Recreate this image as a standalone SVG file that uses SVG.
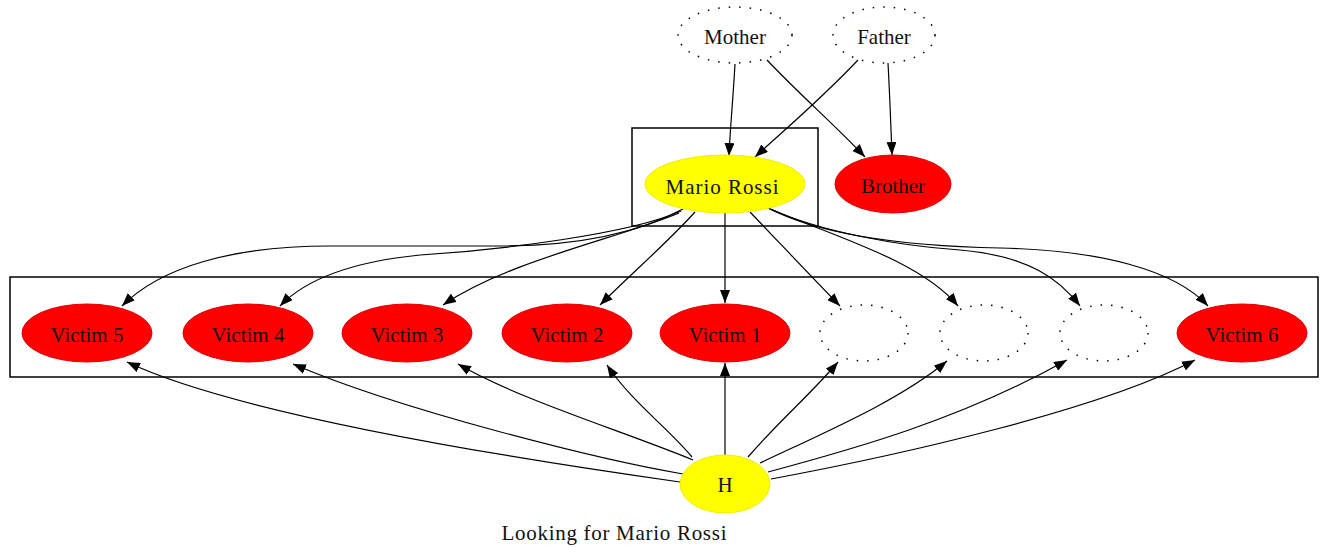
<svg xmlns="http://www.w3.org/2000/svg" width="1322" height="548" viewBox="0 0 1322 548">
<defs>
<style>
.t{font-family:"Liberation Serif","Times New Roman",serif;font-size:21px;fill:#111;text-anchor:middle}
.red{fill:#ff0000;stroke:#e00000;stroke-width:1}
.yel{fill:#ffff00;stroke:#eeee00;stroke-width:1}
.dot{fill:none;stroke:#000;stroke-width:1.5;stroke-dasharray:1.5 9}
.box{fill:none;stroke:#000;stroke-width:1.5}
.e{fill:none;stroke:#000;stroke-width:1.2;marker-end:url(#ah)}
</style>
<marker id="ah" markerUnits="userSpaceOnUse" markerWidth="13" markerHeight="10" viewBox="0 0 13 10" refX="13" refY="5" orient="auto">
<path d="M0,0 L13,5 L0,10 z" fill="#000"/>
</marker>
</defs>
<rect width="1322" height="548" fill="#fff"/>
<g id="clusters">
<rect class="box" x="632" y="128" width="186" height="98"/>
<rect class="box" x="10" y="277" width="1308" height="100"/>
</g>
<g id="connectors">
<path class="e" d="M735,64 C733,100 730,130 729,156"/>
<path class="e" d="M767,60 C800,95 835,125 865,157"/>
<path class="e" d="M858,60 C820,100 790,125 755,157"/>
<path class="e" d="M888,63 C890,100 891,130 892,155"/>
<path class="e" d="M683,209 C640,232 580,246 500,246 L330,246 C230,246 160,268 122,306"/>
<path class="e" d="M681,211 C630,234 500,250 420,255 C350,262 305,280 280,306"/>
<path class="e" d="M679,213 C620,238 510,260 443,305"/>
<path class="e" d="M695,212 C670,240 630,275 600,305"/>
<path class="e" d="M725,213 L725,303"/>
<path class="e" d="M750,212 C775,238 805,270 840,306"/>
<path class="e" d="M768,208 C830,235 920,260 958,306"/>
<path class="e" d="M768,208 C820,232 900,246 960,250 C1030,256 1060,280 1080,306"/>
<path class="e" d="M768,208 C820,235 900,246 1000,248 C1100,250 1175,270 1208,306"/>
<path class="e" d="M680,482 C560,465 250,420 127,362"/>
<path class="e" d="M683,474 C600,460 400,410 293,364"/>
<path class="e" d="M693,460 C620,430 520,400 458,364"/>
<path class="e" d="M692,457 C670,430 630,400 607,365"/>
<path class="e" d="M725,455 L725,363"/>
<path class="e" d="M748,457 C780,420 810,395 838,362"/>
<path class="e" d="M760,463 C830,430 900,400 947,361"/>
<path class="e" d="M768,472 C850,450 960,420 1067,360"/>
<path class="e" d="M771,479 C900,455 1100,410 1195,360"/>
</g>
<g id="mother"><ellipse class="dot" cx="735" cy="35" rx="57" ry="28"/><text class="t" x="735" y="44">Mother</text></g>
<g id="father"><ellipse class="dot" cx="884" cy="35" rx="51" ry="28"/><text class="t" x="884" y="44">Father</text></g>
<g id="mario"><ellipse class="yel" cx="725" cy="184" rx="80" ry="29"/><text class="t" x="722" y="194" textLength="113">Mario Rossi</text></g>
<g id="brother"><ellipse class="red" cx="893" cy="184" rx="58" ry="29"/><text class="t" x="893" y="193">Brother</text></g>
<g id="victim5"><ellipse class="red" cx="87" cy="333" rx="65" ry="29"/><text class="t" x="87" y="342">Victim 5</text></g>
<g id="victim4"><ellipse class="red" cx="248" cy="333" rx="65" ry="29"/><text class="t" x="248" y="342">Victim 4</text></g>
<g id="victim3"><ellipse class="red" cx="407" cy="333" rx="65" ry="29"/><text class="t" x="407" y="342">Victim 3</text></g>
<g id="victim2"><ellipse class="red" cx="567" cy="333" rx="65" ry="29"/><text class="t" x="567" y="342">Victim 2</text></g>
<g id="victim1"><ellipse class="red" cx="725" cy="333" rx="65" ry="29"/><text class="t" x="725" y="342">Victim 1</text></g>
<g id="blank1"><ellipse class="dot" cx="864" cy="333" rx="44" ry="28"/></g>
<g id="blank2"><ellipse class="dot" cx="984" cy="333" rx="44" ry="28"/></g>
<g id="blank3"><ellipse class="dot" cx="1104" cy="333" rx="44" ry="28"/></g>
<g id="victim6"><ellipse class="red" cx="1242" cy="333" rx="65" ry="29"/><text class="t" x="1242" y="342">Victim 6</text></g>
<g id="h"><ellipse class="yel" cx="725" cy="484" rx="45" ry="29"/><text class="t" x="725" y="492">H</text></g>
<text class="t" x="614" y="540" textLength="225">Looking for Mario Rossi</text>
</svg>
